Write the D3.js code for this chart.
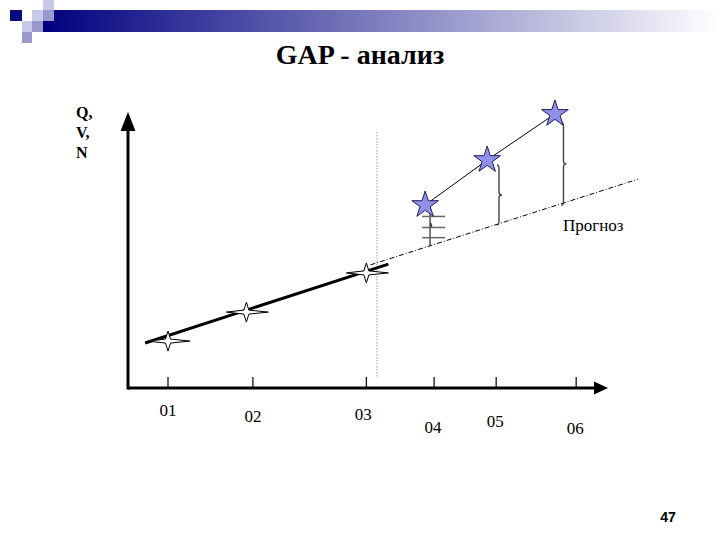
<!DOCTYPE html>
<html><head><meta charset="utf-8">
<script src="https://cdn.jsdelivr.net/npm/d3@7"></script>
<style>body{margin:0;background:#fff}svg{display:block}
.serif{font-family:"Liberation Serif","Times New Roman","DejaVu Serif",serif}
.sans{font-family:"Liberation Sans",Arial,"DejaVu Sans",sans-serif}
</style>
</head><body>
<script>
// ---- data ----
const periods = ["01","02","03","04","05","06"];
const periodX = [1, 2.04, 3.43, 4.26, 5.02, 6];
const pastX = [1, 1.96, 3.43];
const pastY = [1.70, 2.75, 4.17];
const actualX = [4.15, 4.91, 5.74];
const actualY = [6.63, 8.26, 9.93];
const trendX = [0.72, 3.70];
const trendY = [1.63, 4.49];
const forecastX = [3.48, 6.76];
const forecastY = [4.46, 7.57];
const gapX = [4.21, 5.03, 5.82];
const gapTop = [6.63, 8.08, 9.62];
const gapBottom = [5.15, 5.91, 6.62];
const splitX = 3.56;
const yAxisLabel = ["Q,", "V,", "N"];
const title = "GAP - анализ";
const forecastLabel = "Прогноз";
const pageNum = "47";

const W = 720, H = 540;
const svg = d3.select("body").append("svg").attr("width", W).attr("height", H);

// header bar
const defs = svg.append("defs");
const g = defs.append("linearGradient").attr("id","hdr").attr("x1","0").attr("x2","1");
g.append("stop").attr("offset","0").attr("stop-color","#000080");
g.append("stop").attr("offset","1").attr("stop-color","#ffffff");
svg.append("rect").attr("x",43).attr("y",10).attr("width",677).attr("height",22).attr("fill","url(#hdr)");
const sq = [[10,10,12,11,"#0a0a80"],[32,10,11,11,"#c8c8e8"],[43,0,11,10,"#c8c8e8"],[43,10,11,11,"#9898cc"],
            [22,21,10,11,"#c8c8e8"],[32,21,11,11,"#9898cc"],[22,32,10,11,"#9898cc"]];
svg.selectAll("rect.sq").data(sq).enter().append("rect").attr("class","sq")
  .attr("x",d=>d[0]).attr("y",d=>d[1]).attr("width",d=>d[2]).attr("height",d=>d[3]).attr("fill",d=>d[4]);

// title
svg.append("text").attr("class","serif").attr("x",360).attr("y",64).attr("text-anchor","middle")
  .style("font-weight","bold").style("font-size","28px").text(title);

// scales
const x = d3.scaleLinear().domain([0.51, 6.39]).range([128, 608]);
const y = d3.scaleLinear().domain([0, 10]).range([388, 112]);

// axes
svg.append("line").attr("x1",x(0.51)).attr("x2",x(6.39)-10).attr("y1",y(0)).attr("y2",y(0))
  .attr("stroke","#000").attr("stroke-width",3);
svg.append("line").attr("x1",x(0.51)).attr("x2",x(0.51)).attr("y1",y(0)+1.5).attr("y2",y(10)+12)
  .attr("stroke","#000").attr("stroke-width",3);
svg.append("path").attr("d",`M${x(6.39)},${y(0)} L${x(6.39)-14},${y(0)-6.5} L${x(6.39)-14},${y(0)+6.5}Z`).attr("fill","#000");
svg.append("path").attr("d",`M${x(0.51)},${y(10)} L${x(0.51)-7.5},${y(10)+19} L${x(0.51)+7.5},${y(10)+19}Z`).attr("fill","#000");

// ticks
svg.selectAll("line.tick").data(periodX).enter().append("line").attr("class","tick")
  .attr("x1",d=>x(d)).attr("x2",d=>x(d)).attr("y1",y(0)-11).attr("y2",y(0)+1)
  .attr("stroke","#000").attr("stroke-width",1.2);
const labelDy = [28, 34, 32, 45, 39, 46];
const labelDx = [0, 0, -3, -1, -1, -1];
svg.selectAll("text.tl").data(periods).enter().append("text").attr("class","tl serif")
  .attr("x",(d,i)=>x(periodX[i])+labelDx[i]).attr("y",(d,i)=>y(0)+labelDy[i])
  .attr("text-anchor","middle").style("font-size","17px").text(d=>d);

// y label
svg.selectAll("text.yl").data(yAxisLabel).enter().append("text").attr("class","yl serif")
  .attr("x",76).attr("y",(d,i)=>118+i*20).style("font-weight","bold")
  .style("font-size","16px").text(d=>d);

// split dotted line
svg.append("line").attr("x1",x(splitX)).attr("x2",x(splitX)).attr("y1",132).attr("y2",378)
  .attr("stroke","#999").attr("stroke-width",1).attr("stroke-dasharray","1.5,1.5");

// forecast dash-dot
const line = d3.line().x(d=>x(d[0])).y(d=>y(d[1]));
svg.append("path").attr("d",line(d3.zip(forecastX,forecastY))).attr("fill","none")
  .attr("stroke","#000").attr("stroke-width",1).attr("stroke-dasharray","5,2,1,2");
// trend
svg.append("path").attr("d",line(d3.zip(trendX,trendY))).attr("fill","none")
  .attr("stroke","#000").attr("stroke-width",3);
// actual connecting line
svg.append("path").attr("d",line(d3.zip(actualX,actualY))).attr("fill","none")
  .attr("stroke","#000").attr("stroke-width",1);

// gap braces
function brace(px, y1, y2) {
  const m = (y1+y2)/2, s = px+2;
  return `M${px},${y1} Q${s},${y1} ${s},${y1+4} L${s},${m-3} Q${s},${m} ${s+3},${m} Q${s},${m} ${s},${m+3} L${s},${y2-4} Q${s},${y2} ${px},${y2}`;
}
svg.selectAll("path.brace").data(gapX).enter().append("path").attr("class","brace")
  .attr("d",(d,i)=> i===0
     ? `M${x(d)},${y(gapTop[i])} L${x(d)},${y(gapBottom[i])} M${x(d)},${(y(gapTop[i])+y(gapBottom[i]))/2-3} Q${x(d)+3},${(y(gapTop[i])+y(gapBottom[i]))/2} ${x(d)},${(y(gapTop[i])+y(gapBottom[i]))/2+3}`
     : brace(x(d), y(gapTop[i]), y(gapBottom[i])))
  .attr("fill","none").attr("stroke","#444").attr("stroke-width",1.4);
// cross bars at first gap
const g0 = gapX[0];
[0.28, 0.55, 0.8].forEach(f=>{
  const yy = y(gapTop[0]) + f*(y(gapBottom[0])-y(gapTop[0]));
  svg.append("line").attr("x1",x(g0)-8).attr("x2",x(g0)+15).attr("y1",yy).attr("y2",yy)
    .attr("stroke","#666").attr("stroke-width",1.5);
});

// past stars (4-point, elongated)
const star4 = "M0,-10 L2.5,-2 L22,0 L2.5,2 L0,10 L-2.5,2 L-20,0 L-2.5,-2Z";
svg.selectAll("path.s4").data(pastX).enter().append("path").attr("class","s4")
  .attr("transform",(d,i)=>`translate(${x(d)},${y(pastY[i])})`)
  .attr("d",star4).attr("fill","#fff").attr("stroke","#000").attr("stroke-width",1);

// actual stars (5-point)
const star5 = d3.symbol().type(d3.symbolStar).size(220);
svg.selectAll("path.s5").data(actualX).enter().append("path").attr("class","s5")
  .attr("transform",(d,i)=>`translate(${x(d)},${y(actualY[i])})`)
  .attr("d",star5).attr("fill","#9090e8").attr("stroke","#202060").attr("stroke-width",1);

// forecast label
svg.append("text").attr("class","serif").attr("x",563).attr("y",231).style("font-size","17px").text(forecastLabel);

// page number
svg.append("text").attr("class","sans").attr("x",668).attr("y",522).attr("text-anchor","middle")
  .style("font-weight","bold").style("font-size","14px").text(pageNum);
</script>
</body></html>
